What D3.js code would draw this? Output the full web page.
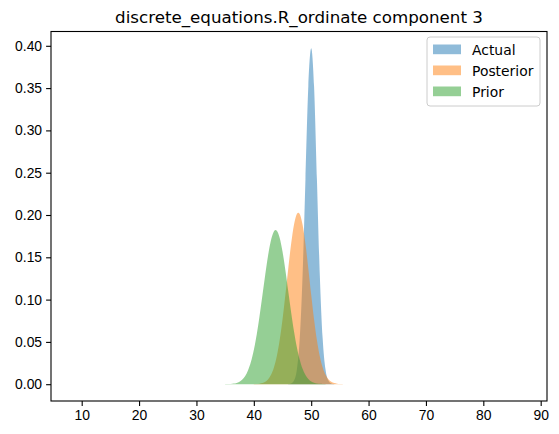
<!DOCTYPE html>
<html>
<head>
<meta charset="utf-8">
<script src="https://cdn.jsdelivr.net/npm/d3@7"></script>
<style>
  body { margin: 0; background: #fff; }
  svg { font-family: "DejaVu Sans", sans-serif; }
  .axis path, .axis line { stroke: #000; stroke-width: 1.1; }
  .axis text { font-size: 13.9px; fill: #000; }
</style>
</head>
<body>
<svg width="559" height="434"></svg>
<script>
// values (density per x)
var actualX = [46, 46.5, 47, 47.5, 48, 48.5, 49, 49.5, 50, 50.5, 51, 51.5, 52, 52.5, 53, 53.5, 54];
var actualY = [0.0001, 0.0009, 0.0044, 0.0175, 0.0540, 0.1295, 0.2420, 0.3521, 0.3970, 0.3521, 0.2420, 0.1295, 0.0540, 0.0175, 0.0044, 0.0009, 0.0001];

var posteriorX = [40, 40.5, 41, 41.5, 42, 42.5, 43, 43.5, 44, 44.5, 45, 45.5, 46, 46.5, 47, 47.5, 47.75,
                  48, 48.5, 49, 49.5, 50, 50.5, 51, 51.5, 52, 52.5, 53, 53.5, 54, 54.5, 55, 55.5];
var posteriorY = [0.0001, 0.0002, 0.0006, 0.0013, 0.0029, 0.0058, 0.0111, 0.0198, 0.0331, 0.0520, 0.0765, 0.1056, 0.1366, 0.1657, 0.1885, 0.2011, 0.2027,
                  0.2011, 0.1885, 0.1657, 0.1366, 0.1056, 0.0765, 0.0520, 0.0331, 0.0198, 0.0111, 0.0058, 0.0029, 0.0013, 0.0006, 0.0002, 0.0001];

var priorX = [35, 35.5, 36, 36.5, 37, 37.5, 38, 38.5, 39, 39.5, 40, 40.5, 41, 41.5, 42, 42.5, 43, 43.5, 43.8,
              44, 44.5, 45, 45.5, 46, 46.5, 47, 47.5, 48, 48.5, 49, 49.5, 50, 50.5, 51, 51.5, 52, 52.5];
var priorY = [0.0001, 0.0001, 0.0003, 0.0007, 0.0015, 0.0029, 0.0055, 0.0097, 0.0165, 0.0265, 0.0404, 0.0585, 0.0805, 0.1050, 0.1300, 0.1528, 0.1704, 0.1805, 0.1822,
              0.1814, 0.1731, 0.1568, 0.1348, 0.1100, 0.0852, 0.0626, 0.0437, 0.0290, 0.0182, 0.0109, 0.0062, 0.0033, 0.0017, 0.0008, 0.0004, 0.0002, 0.0001];

var seriesNames = ["Actual", "Posterior", "Prior"];
var seriesColors = ["#1f77b4", "#ff7f0e", "#2ca02c"];
var xTicks = [10, 20, 30, 40, 50, 60, 70, 80, 90];
var yTicks = [0, 0.05, 0.10, 0.15, 0.20, 0.25, 0.30, 0.35, 0.40];
var titleText = "discrete_equations.R_ordinate component 3";

var svg = d3.select("svg"),
    axL = 51, axR = 547, axT = 31.5, axB = 401;

var x = d3.scaleLinear().domain([4.65, 91.1]).range([axL, axR]);
var y = d3.scaleLinear().domain([-0.01985, 0.4169]).range([axB, axT]);

var series = [
  { name: seriesNames[0], xs: actualX, ys: actualY },
  { name: seriesNames[1], xs: posteriorX, ys: posteriorY },
  { name: seriesNames[2], xs: priorX, ys: priorY }
];

var area = d3.area()
    .x(function(d) { return x(d[0]); })
    .y0(y(0))
    .y1(function(d) { return y(d[1]); })
    .curve(d3.curveMonotoneX);

svg.append("g")
  .selectAll("path")
  .data(series)
  .enter().append("path")
    .attr("d", function(d) { return area(d3.zip(d.xs, d.ys)); })
    .attr("fill", function(d, i) { return seriesColors[i]; })
    .attr("fill-opacity", 0.5);

// axes
svg.append("g")
    .attr("class", "axis")
    .attr("transform", "translate(0," + axB + ")")
    .call(d3.axisBottom(x).tickValues(xTicks).tickSize(4.9).tickPadding(4).tickSizeOuter(0))
    .call(function(g) { g.select(".domain").remove(); });

svg.append("g")
    .attr("class", "axis")
    .attr("transform", "translate(" + axL + ",0)")
    .call(d3.axisLeft(y).tickValues(yTicks).tickFormat(d3.format(".2f")).tickSize(4.9).tickPadding(4).tickSizeOuter(0))
    .call(function(g) { g.select(".domain").remove(); });

// spines
svg.append("rect")
    .attr("x", axL).attr("y", axT)
    .attr("width", axR - axL).attr("height", axB - axT)
    .attr("fill", "none")
    .attr("stroke", "#000")
    .attr("stroke-width", 1.1);

svg.append("text")
    .attr("x", (axL + axR) / 2)
    .attr("y", 23)
    .attr("text-anchor", "middle")
    .style("font-size", "16.7px")
    .text(titleText);

// legend
var legend = svg.append("g").attr("transform", "translate(427,37)");
legend.append("rect")
    .attr("width", 113).attr("height", 69)
    .attr("rx", 3)
    .attr("fill", "#fff")
    .attr("fill-opacity", 0.8)
    .attr("stroke", "#ccc");

var items = legend.selectAll("g.item")
  .data(seriesNames)
  .enter().append("g")
    .attr("class", "item")
    .attr("transform", function(d, i) { return "translate(6," + (12.5 + i * 21) + ")"; });

items.append("rect")
    .attr("y", -5)
    .attr("width", 28).attr("height", 9.7)
    .attr("fill", function(d, i) { return seriesColors[i]; })
    .attr("fill-opacity", 0.5);

items.append("text")
    .attr("x", 39)
    .attr("y", 5)
    .style("font-size", "13.9px")
    .text(function(d) { return d; });
</script>
</body>
</html>
